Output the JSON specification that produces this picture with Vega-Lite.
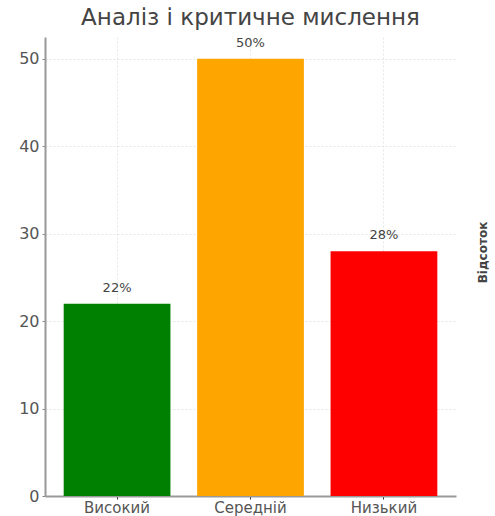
{
  "$schema": "https://vega.github.io/schema/vega-lite/v6.json",
  "autosize": {"type": "none"},
  "width": 411,
  "height": 459,
  "padding": {"left": 45, "top": 37, "right": 39, "bottom": 20},
  "background": "white",
  "title": {"text": "Аналіз і критичне мислення", "font": "DejaVu Sans", "fontSize": 23, "fontWeight": "normal", "color": "#444444", "anchor": "middle", "offset": 7},
  "data": {"values": [
    {"level": "Високий", "value": 22, "label": "22%"},
    {"level": "Середній", "value": 50, "label": "50%"},
    {"level": "Низький", "value": 28, "label": "28%"}
  ]},
  "config": {"view": {"stroke": null}, "font": "DejaVu Sans"},
  "encoding": {
    "x": {"field": "level", "type": "nominal", "sort": null,
      "scale": {"paddingInner": 0.2, "paddingOuter": 0.14},
      "axis": {"title": null, "labelAngle": 0, "labelFontSize": 15, "labelColor": "#555555", "labelPadding": 1, "domainColor": "#999999", "domainWidth": 2, "tickColor": "#333333", "tickSize": 3, "grid": true, "gridColor": "#e6e6e6", "gridDash": [2, 2], "labelFont": "DejaVu Sans"}}
  },
  "layer": [
    {
      "mark": {"type": "bar"},
      "encoding": {
        "y": {"field": "value", "type": "quantitative", "scale": {"domain": [0, 52.5], "nice": false},
          "axis": {"title": null, "values": [0, 10, 20, 30, 40, 50], "labelFontSize": 16, "labelColor": "#555555", "labelPadding": 3, "tickSize": 3, "tickColor": "#888888", "domainColor": "#999999", "domainWidth": 2, "gridColor": "#e6e6e6", "gridDash": [2, 2], "labelFont": "DejaVu Sans"}},
        "color": {"field": "level", "type": "nominal", "scale": {"domain": ["Високий", "Середній", "Низький"], "range": ["#008000", "#FFA500", "#FF0000"]}, "legend": null}
      }
    },
    {
      "mark": {"type": "text", "baseline": "bottom", "dy": -9, "fontSize": 13, "color": "#444444", "font": "DejaVu Sans"},
      "encoding": {
        "y": {"field": "value", "type": "quantitative", "scale": {"domain": [0, 52.5], "nice": false},
          "axis": {"orient": "right", "title": "Відсоток", "titleAngle": 270, "titleFontSize": 12, "titleFontWeight": "bold", "titleColor": "#444444", "titlePadding": 33, "titleY": 215, "titleAlign": "center", "labels": false, "ticks": false, "domain": false, "grid": false}},
        "text": {"field": "label"}
      }
    }
  ],
  "resolve": {"axis": {"y": "independent"}}
}
